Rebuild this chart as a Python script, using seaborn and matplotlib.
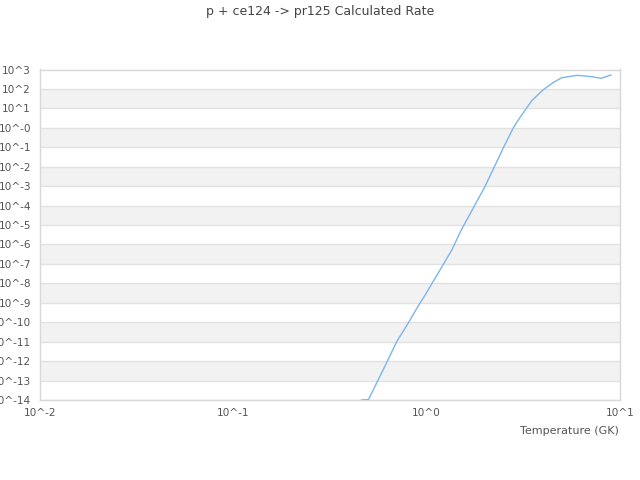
import matplotlib
matplotlib.use("Agg")
import matplotlib.pyplot as plt
import seaborn as sns
import pandas as pd
import numpy as np

title = "p + ce124 -> pr125 Calculated Rate"
x_label = "Temperature (GK)"

temperature = [0.46, 0.5, 0.6, 0.7, 0.8, 0.9, 1.0, 1.35, 1.5, 2.0, 2.5, 2.8, 3.0, 3.5, 4.0, 4.5, 5.0, 6.0, 7.0, 8.0, 9.0]
log_rate = [-14.0, -13.98, -12.38, -11.0, -10.07, -9.2, -8.47, -6.28, -5.31, -3.03, -1.0, -0.02, 0.45, 1.4, 1.95, 2.32, 2.58, 2.70, 2.64, 2.55, 2.72]

x_ticks = [-2, -1, 0, 1]
x_tick_labels = ["10^-2", "10^-1", "10^0", "10^1"]
y_ticks = list(range(3, -15, -1))
y_tick_labels = ["10^3", "10^2", "10^1", "10^-0"] + [f"10^-{k}" for k in range(1, 15)]

df = pd.DataFrame({"T": temperature, "rate": [10.0 ** v for v in log_rate]})

sns.set_theme(style="white")
plt.rcParams["font.family"] = ["DejaVu Sans"]

fig = plt.figure(figsize=(6.4, 4.8), dpi=100)
ax = fig.add_axes([40 / 640, 80 / 480, 580 / 640, 330.5 / 480])

for e in y_ticks:
    if e % 2 == 0 and e > -14:
        ax.axhspan(10.0 ** (e - 1), 10.0 ** e, color="#f2f2f2", zorder=0, lw=0)
    ax.axhline(10.0 ** e, color="#e2e2e2", lw=1, zorder=1)

sns.lineplot(data=df, x="T", y="rate", ax=ax, color="#7cb5ec", lw=1, zorder=3)

ax.set_xscale("log")
ax.set_yscale("log")
ax.set_xlim(10.0 ** x_ticks[0], 10.0 ** x_ticks[-1])
ax.set_ylim(10.0 ** y_ticks[-1], 10.0 ** y_ticks[0])
ax.set_xticks([10.0 ** t for t in x_ticks])
ax.set_xticklabels(x_tick_labels)
ax.set_yticks([10.0 ** t for t in y_ticks])
ax.set_yticklabels(y_tick_labels)
ax.minorticks_off()
ax.tick_params(axis="both", length=0, labelsize=7.6, labelcolor="#555555")
ax.tick_params(axis="y", pad=6.5)
ax.tick_params(axis="x", pad=6)

for s in ax.spines.values():
    s.set_color("#d8d8d8")
    s.set_linewidth(1)

ax.set_xlabel("")
ax.set_ylabel("")
fig.text(619 / 640, 1 - 431 / 480, x_label, ha="right", va="center", fontsize=8, color="#555555")
fig.text(0.5, 1 - 12 / 480, title, ha="center", va="center", fontsize=9, color="#444444")

fig.savefig("out.png", dpi=100)
